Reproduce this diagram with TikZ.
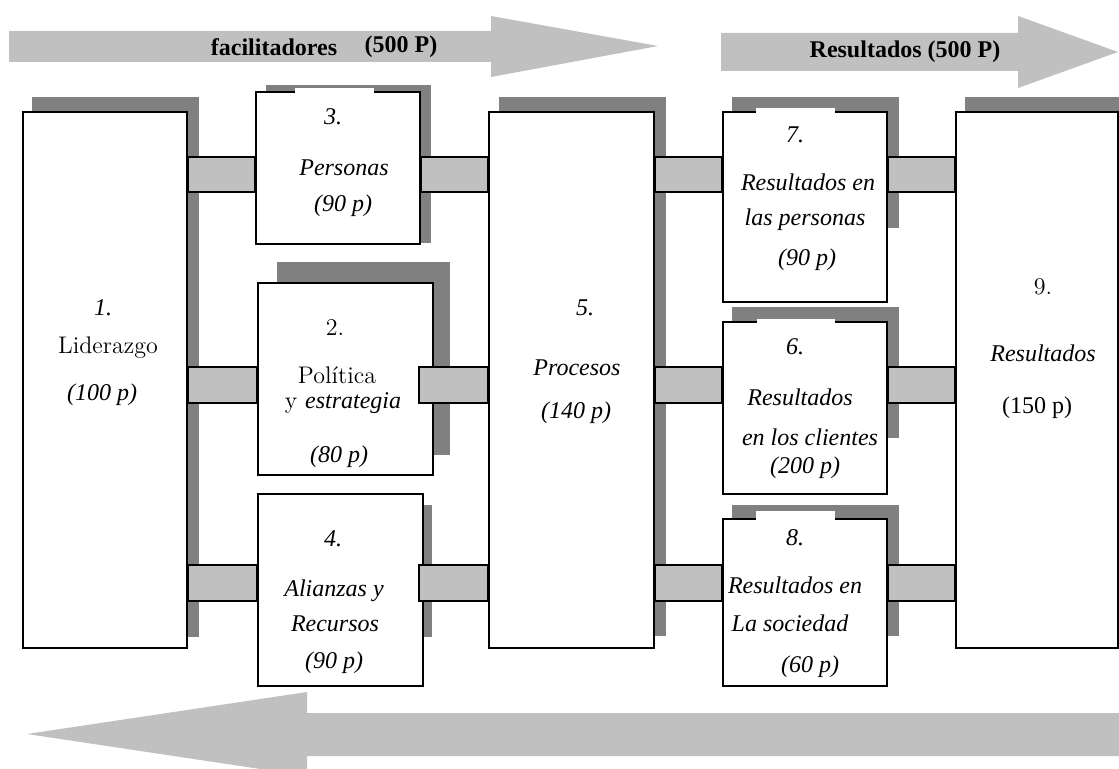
\documentclass[tikz,border=0pt]{standalone}
\usepackage{fontspec}
\setmainfont{Liberation Serif}
\newfontfamily\lmfont{Latin Modern Roman}
\definecolor{bargray}{HTML}{C0C0C0}
\definecolor{shadegray}{HTML}{808080}
\tikzset{
  box/.style={draw, line width=1.1pt, fill=white, rectangle, inner sep=0pt, anchor=north west},
  shade/.style={fill=shadegray},
  conn/.style={draw, line width=0.6pt, fill=bargray},
  bigarrow/.style={fill=bargray},
  gap/.style={fill=white},
  lbl/.style={inner sep=0pt, font=\fontsize{12}{14}\selectfont\itshape},
  lblup/.style={inner sep=0pt, font=\fontsize{12}{14}\selectfont},
  lblm/.style={inner sep=0pt, font=\fontsize{12}{14}\selectfont\lmfont},
  lblb/.style={inner sep=0pt, font=\fontsize{12}{14}\selectfont\bfseries},
}
\begin{document}
\begin{tikzpicture}[x=0.5pt, y=-0.5pt]
\useasboundingbox (0,0) rectangle (1119,769);

% large direction arrows
\fill[bigarrow] (9,31) -- (491,31) -- (491,16) -- (658,46) -- (491,77) -- (491,62) -- (9,62) -- cycle;
\fill[bigarrow] (721,33) -- (1018,33) -- (1018,16) -- (1118,52) -- (1018,88) -- (1018,71) -- (721,71) -- cycle;
\fill[bigarrow] (1119,713) -- (307,713) -- (307,692) -- (27,734) -- (307,776) -- (307,756) -- (1119,756) -- cycle;
\node[lblb] (tfac) at (274,47) {facilitadores};
\node[lblb] (tfacp) at (401,47) {(500 P)};
\node[lblb] (tres) at (905,52) {Resultados (500 P)};

% shadows
\fill[shade] (32,97) rectangle (199,637);
\fill[shade] (266,85) rectangle (431,243);
\fill[shade] (277,262) rectangle (450,455);
\fill[shade] (267,505) rectangle (432,637);
\fill[shade] (499,97) rectangle (666,636);
\fill[shade] (732,97) rectangle (899,228);
\fill[shade] (732,307) rectangle (899,438);
\fill[shade] (732,505) rectangle (899,636);
\fill[shade] (965,97) rectangle (1130,637);

% boxes
\node[box, minimum width=82pt, minimum height=268pt] (b1) at (22,111) {};
\node[box, minimum width=82pt, minimum height=76pt] (b3) at (255,91) {};
\node[box, minimum width=87.5pt, minimum height=96pt] (b2) at (257,282) {};
\node[box, minimum width=82.5pt, minimum height=96pt] (b4) at (257,493) {};
\node[box, minimum width=82.5pt, minimum height=268pt] (b5) at (488,111) {};
\node[box, minimum width=82pt, minimum height=95pt] (b7) at (722,111) {};
\node[box, minimum width=82pt, minimum height=86pt] (b6) at (722,321) {};
\node[box, minimum width=82pt, minimum height=83.5pt] (b8) at (722,518) {};
\node[box, minimum width=81pt, minimum height=268pt] (b9) at (955,111) {};

% breaks in the top borders
\fill[gap] (295,88) rectangle (374,93);
\fill[gap] (756,108) rectangle (835,113);
\fill[gap] (757,319) rectangle (835,323);
\fill[gap] (756,511) rectangle (835,520);

% links between the columns
\coordinate (c2) at (419,0);
\draw[conn] (b1.east |- 0,157) rectangle (b3.west |- 0,192);
\draw[conn] (b3.east |- 0,157) rectangle (b5.west |- 0,192);
\draw[conn] (b5.east |- 0,157) rectangle (b7.west |- 0,192);
\draw[conn] (b7.east |- 0,157) rectangle (b9.west |- 0,192);
\draw[conn] (b1.east |- 0,367) rectangle (b2.west |- 0,403);
\draw[conn] (c2 |- 0,367) rectangle (b5.west |- 0,403);
\draw[conn] (b5.east |- 0,367) rectangle (b6.west |- 0,403);
\draw[conn] (b6.east |- 0,367) rectangle (b9.west |- 0,403);
\draw[conn] (b1.east |- 0,565) rectangle (b4.west |- 0,601);
\draw[conn] (c2 |- 0,565) rectangle (b5.west |- 0,601);
\draw[conn] (b5.east |- 0,565) rectangle (b8.west |- 0,601);
\draw[conn] (b8.east |- 0,565) rectangle (b9.west |- 0,601);

% box texts
\node[lbl] (t1a) at (103,308) {1.};
\node[lblm] (t1b) at (108,348) {Liderazgo};
\node[lbl] (t1c) at (102,395) {(100 p)};

\node[lbl] (t3a) at (333,117) {3.};
\node[lbl] (t3b) at (344,168) {Personas};
\node[lbl] (t3c) at (343,206) {(90 p)};

\node[lblm] (t2a) at (335,328) {2.};
\node[lblm] (t2b) at (337,375) {Política};
\node[lblm] (t2c) at (343,403) {y \fontspec{Liberation Serif}\itshape estrategia};
\node[lbl] (t2d) at (339,457) {(80 p)};

\node[lbl] (t4a) at (333,539) {4.};
\node[lbl] (t4b) at (334,591) {Alianzas y};
\node[lbl] (t4c) at (335,624) {Recursos};
\node[lbl] (t4d) at (334,663) {(90 p)};

\node[lbl] (t5a) at (585,308) {5.};
\node[lbl] (t5b) at (577,368) {Procesos};
\node[lbl] (t5c) at (576,413) {(140 p)};

\node[lbl] (t7a) at (795,135) {7.};
\node[lbl] (t7b) at (808,182) {Resultados en};
\node[lbl] (t7c) at (805,220) {las personas};
\node[lbl] (t7d) at (807,260) {(90 p)};

\node[lbl] (t6a) at (795,347) {6.};
\node[lbl] (t6b) at (800,397) {Resultados};
\node[lbl] (t6c) at (810,437) {en los clientes};
\node[lbl] (t6d) at (805,468) {(200 p)};

\node[lbl] (t8a) at (795,538) {8.};
\node[lbl] (t8b) at (795,585) {Resultados en};
\node[lbl] (t8c) at (790,623) {La sociedad};
\node[lbl] (t8d) at (810,667) {(60 p)};

\node[lblm] (t9a) at (1043,287) {9.};
\node[lbl] (t9b) at (1043,353) {Resultados};
\node[lblup] (t9c) at (1037,408) {(150 p)};
\end{tikzpicture}
\end{document}
